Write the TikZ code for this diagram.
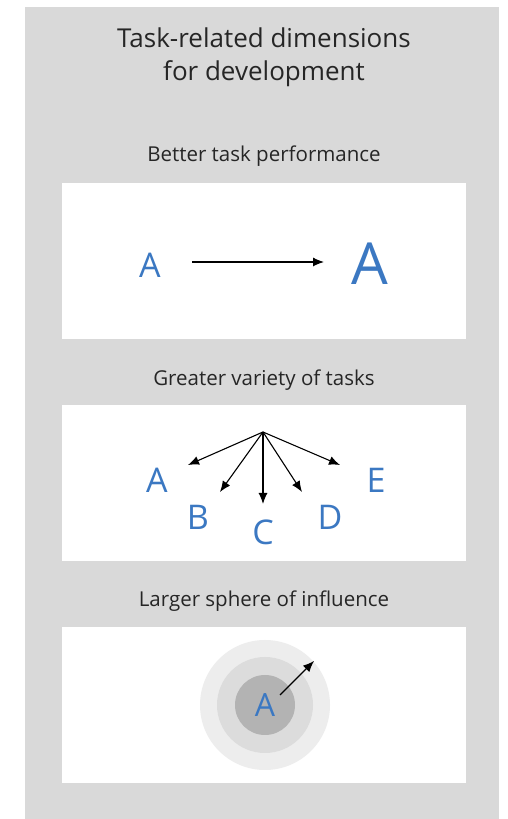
\documentclass[tikz,border=0pt]{standalone}
\usepackage{fontspec}
\setmainfont{Open Sans}
\usetikzlibrary{positioning, arrows.meta}
\definecolor{panelgray}{HTML}{D9D9D9}
\definecolor{letterblue}{HTML}{3B78C2}
\definecolor{ringouter}{HTML}{EDEDED}
\definecolor{ringmid}{HTML}{DCDCDC}
\definecolor{ringinner}{HTML}{B3B3B3}
\begin{document}
\begin{tikzpicture}[
        x=1pt, y=1pt,
        heading/.style = {font=\fontsize{26}{33}\selectfont, text=black!85, align=center}, % Title
        caption/.style = {font=\fontsize{20.5}{23}\selectfont, text=black!85}, % Section titles
        sheet/.style = {fill=white, minimum width=404pt, minimum height=156pt, inner sep=0pt},
        letter/.style = {font=\fontsize{34}{40}\selectfont, text=letterblue, inner sep=0pt},
        pointer/.style = {-{Latex[length=11pt, width=9pt]}, line width=1.1pt},
    ]

    \useasboundingbox (0,0) rectangle (508,819);
    \fill[panelgray] (25,0) rectangle (499,812);

    \node[heading] (title) at (264,762) {Task-related dimensions\\for development};

    % Better task performance
    \node[caption] (cap1) at (264,663) {Better task performance};
    \node[sheet] (box1) at (264,558) {};
    \node[letter] (small) at (150,554) {A};
    \node[letter, font=\fontsize{58}{64}\selectfont] (big) at (370,555) {A};
    \coordinate (p1) at (192,557);
    \coordinate (p2) at (324,557);
    \draw[pointer] (p1) -- (p2);

    % Greater variety of tasks
    \node[caption] (cap2) at (264,439) {Greater variety of tasks};
    \node[sheet] (box2) at (264,336) {};
    \coordinate (hub) at (263,387);
    \foreach \name/\txt/\x/\y/\tx/\ty in {a/A/157/339/188/354, b/B/198/302/220/327, c/C/263/287/263/315,
            d/D/330/302/302/327, e/E/376/339/340/354} {
        \node[letter] (\name) at (\x,\y) {\txt};
        \coordinate (tip-\name) at (\tx,\ty);
        \draw[pointer] (hub) -- (tip-\name);
    }

    % Larger sphere of influence
    \node[caption] (cap3) at (264,218) {Larger sphere of influence};
    \node[sheet] (box3) at (264,114) {};
    \node[circle, fill=ringouter, minimum size=130pt] (outer) at (265,114) {};
    \node[circle, fill=ringmid, minimum size=96pt] (mid) at (outer) {};
    \node[circle, fill=ringinner, minimum size=60pt, inner sep=0pt] (inner) at (outer) {};
    \node[letter, font=\fontsize{32}{38}\selectfont] (core) at (outer) {A};
    \coordinate (start) at (280,124);
    \coordinate (reach) at (314,158);
    \draw[pointer] (start) -- (reach);

\end{tikzpicture}
\end{document}
